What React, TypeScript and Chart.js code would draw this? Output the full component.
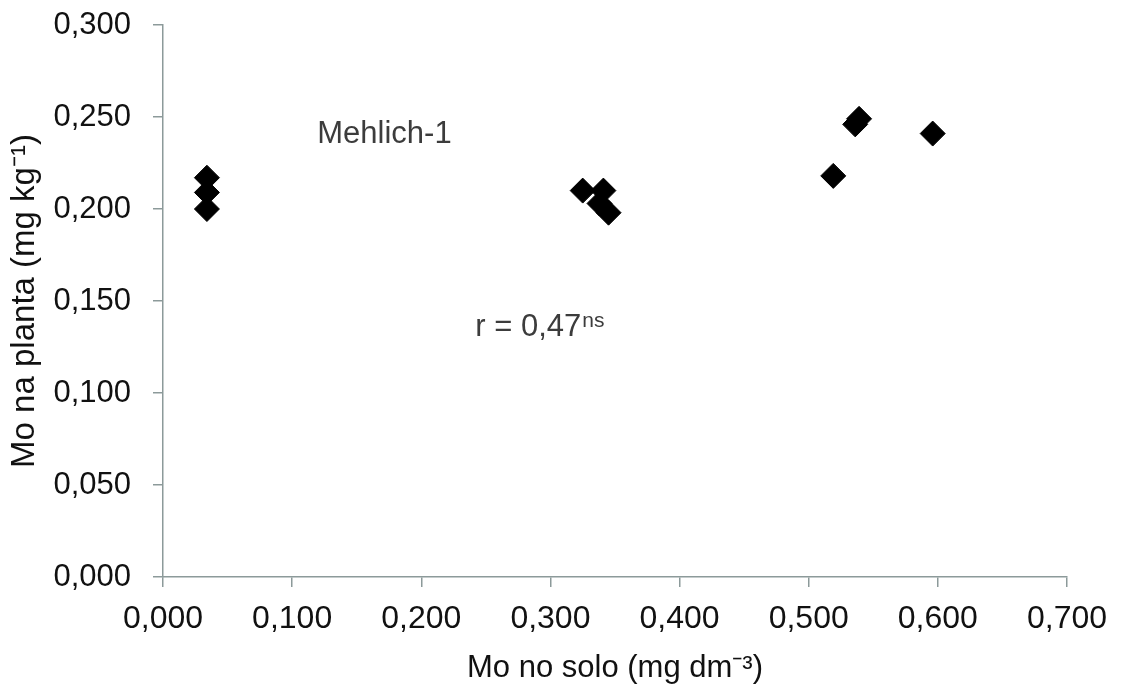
import React, { useEffect, useRef } from "react";
import { Chart, registerables } from "chart.js";

Chart.register(...registerables);

const soilMo: number[] = [0.034, 0.034, 0.034, 0.325, 0.341, 0.338, 0.345, 0.519, 0.536, 0.539, 0.596];
const plantMo: number[] = [0.217, 0.209, 0.200, 0.210, 0.210, 0.203, 0.198, 0.218, 0.246, 0.249, 0.241];

const xTickLabels: string[] = ["0,000", "0,100", "0,200", "0,300", "0,400", "0,500", "0,600", "0,700"];
const yTickLabels: string[] = ["0,000", "0,050", "0,100", "0,150", "0,200", "0,250", "0,300"];

const methodLabel = "Mehlich-1";
const rLabel = "r = 0,47";
const rSuper = "ns";
const xTitle = "Mo no solo (mg dm⁻³)";
const yTitle = "Mo na planta (mg kg⁻¹)";

const FONT = "'Liberation Sans', Arial, sans-serif";
const AXIS_COLOR = "#8c9a9a";

const annotationPlugin = {
  id: "annots",
  afterDatasetsDraw(chart: any) {
    const { ctx, scales } = chart;
    const x = scales.x;
    const y = scales.y;
    ctx.save();
    ctx.fillStyle = "#3c3c3c";
    ctx.font = `31px ${FONT}`;
    ctx.textAlign = "center";
    ctx.textBaseline = "middle";
    ctx.fillText(methodLabel, x.getPixelForValue(0.1715), y.getPixelForValue(0.2405));
    ctx.textAlign = "left";
    const rx = x.getPixelForValue(0.2418);
    const ry = y.getPixelForValue(0.1355);
    ctx.fillText(rLabel, rx, ry);
    const w = ctx.measureText(rLabel).width;
    ctx.font = `21px ${FONT}`;
    ctx.fillText(rSuper, rx + w + 1, ry - 6);
    ctx.restore();
  },
};

export default function App() {
  const ref = useRef<HTMLCanvasElement | null>(null);
  useEffect(() => {
    document.body.style.margin = "0";
    const canvas = ref.current;
    if (!canvas) return;
    const chart = new Chart(canvas, {
      type: "scatter",
      data: {
        datasets: [
          {
            data: soilMo.map((v, i) => ({ x: v, y: plantMo[i] })),
            pointStyle: "rectRot",
            pointRadius: 12.5,
            pointBackgroundColor: "#000",
            pointBorderColor: "#000",
            pointBorderWidth: 1,
          },
        ],
      },
      options: {
        animation: false,
        responsive: false,
        devicePixelRatio: 1,
        layout: { padding: { top: 25, right: 55, bottom: 0, left: 0 } },
        plugins: { legend: { display: false }, tooltip: { enabled: false } },
        scales: {
          x: {
            type: "linear",
            min: 0,
            max: 0.7,
            afterFit: (s: any) => {
              s.height = 107;
              s.paddingLeft = 0;
              s.paddingRight = 0;
            },
            border: { display: true, color: AXIS_COLOR, width: 1.5 },
            grid: { drawOnChartArea: false, drawTicks: true, tickLength: 10, color: AXIS_COLOR, lineWidth: 1.5 },
            ticks: {
              stepSize: 0.1,
              padding: 13,
              color: "#111",
              font: { family: FONT, size: 32 },
              maxRotation: 0,
              autoSkip: false,
              callback: (_v: any, i: number) => xTickLabels[i],
            },
            title: {
              display: true,
              text: xTitle,
              color: "#111",
              font: { family: FONT, size: 31 },
              padding: { top: 0, bottom: -3 },
            },
          },
          y: {
            type: "linear",
            min: 0,
            max: 0.3,
            afterFit: (s: any) => {
              s.width = 163;
              s.paddingTop = 0;
              s.paddingBottom = 0;
            },
            border: { display: true, color: AXIS_COLOR, width: 1.5 },
            grid: { drawOnChartArea: false, drawTicks: true, tickLength: 10, color: AXIS_COLOR, lineWidth: 1.5 },
            ticks: {
              stepSize: 0.05,
              padding: 22,
              color: "#111",
              font: { family: FONT, size: 31 },
              autoSkip: false,
              callback: (_v: any, i: number) => yTickLabels[i],
            },
            title: {
              display: true,
              text: yTitle,
              color: "#111",
              font: { family: FONT, size: 33 },
              padding: { top: 5, bottom: 0 },
            },
          },
        },
      },
      plugins: [annotationPlugin],
    } as any);
    return () => chart.destroy();
  }, []);
  return (
    <div style={{ position: "fixed", left: 0, top: 0, width: 1122, height: 684, background: "#fff" }}>
      <canvas ref={ref} width={1122} height={684} style={{ width: 1122, height: 684 }} />
    </div>
  );
}
